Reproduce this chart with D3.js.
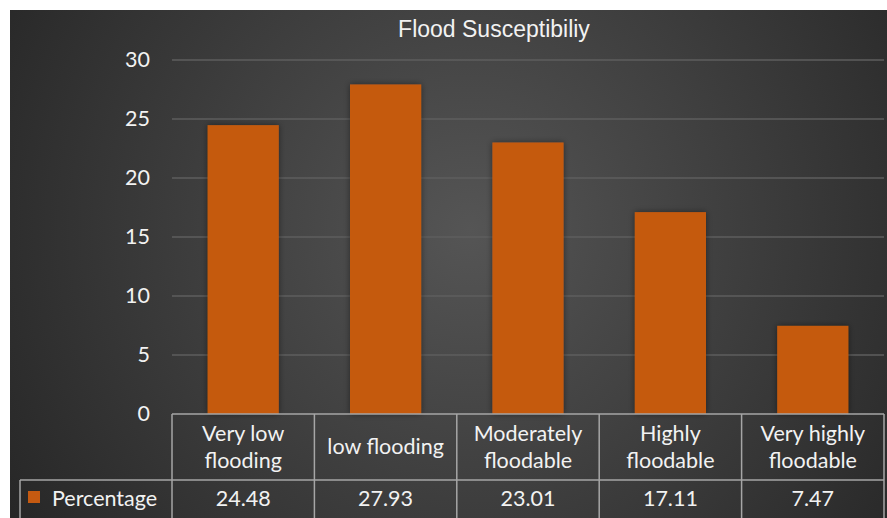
<!DOCTYPE html>
<html>
<head>
<meta charset="utf-8">
<script src="https://cdn.jsdelivr.net/npm/d3@7"></script>
<style>
  body { margin: 0; background: #fff; }
  svg { display: block; }
  text { font-family: Lato, "Open Sans", sans-serif; fill: #f2f2f2; }
</style>
</head>
<body>
<script>
var width  = 887;
var height = 518;

var categories = [['Very low', 'flooding'], ['low flooding'], ['Moderately', 'floodable'],
                  ['Highly', 'floodable'], ['Very highly', 'floodable']];
var values     = [24.48, 27.93, 23.01, 17.11, 7.47];
var valueLabels = ['24.48', '27.93', '23.01', '17.11', '7.47'];
var yTicks     = [0, 5, 10, 15, 20, 25, 30];
var seriesName = 'Percentage';
var title      = 'Flood Susceptibiliy';

var plotLeft = 172, plotRight = 884, plotTop = 60, plotBottom = 414;
var rowSplit = 480, tableBottom = 540, legendLeft = 20;
var fontSize = '21.5px';

var svg = d3.select('body').append('svg')
            .attr('width', width)
            .attr('height', height);

var defs = svg.append('defs');
var grad = defs.append('radialGradient')
               .attr('id', 'bg')
               .attr('gradientUnits', 'userSpaceOnUse')
               .attr('cx', 470).attr('cy', 230).attr('r', 540);
grad.append('stop').attr('offset', '0%').attr('stop-color', '#555555');
grad.append('stop').attr('offset', '100%').attr('stop-color', '#272727');

var shadow = defs.append('filter').attr('id', 'shadow')
                 .attr('x', '-20%').attr('y', '-20%').attr('width', '140%').attr('height', '140%');
shadow.append('feDropShadow')
      .attr('dx', 0).attr('dy', 0).attr('stdDeviation', 3)
      .attr('flood-color', '#000').attr('flood-opacity', 0.45);

svg.append('rect')
   .attr('x', 10).attr('y', 10)
   .attr('width', width - 10).attr('height', height - 10)
   .attr('fill', 'url(#bg)');

var x = d3.scaleBand()
          .domain(d3.range(values.length))
          .range([plotLeft, plotRight])
          .paddingInner(0.5)
          .paddingOuter(0.25);
var band = d3.scaleBand().domain(d3.range(values.length)).range([plotLeft, plotRight]);

var y = d3.scaleLinear().domain([0, 30]).range([plotBottom, plotTop]);

// gridlines
svg.append('g')
   .selectAll('line')
   .data(yTicks.filter(function(d){ return d > 0; }))
   .enter().append('line')
   .attr('x1', plotLeft).attr('x2', plotRight)
   .attr('y1', function(d){ return y(d); })
   .attr('y2', function(d){ return y(d); })
   .attr('stroke', '#5e5e5e')
   .attr('stroke-width', 1.5);

// y labels
var yAxis = svg.append('g')
   .attr('transform', 'translate(150,0)')
   .call(d3.axisLeft(y).tickValues(yTicks).tickSize(0).tickPadding(0));
yAxis.select('.domain').remove();
yAxis.selectAll('text')
     .attr('font-size', fontSize)
     .attr('fill', '#f2f2f2')
     .style('font-family', 'Lato, "Open Sans", sans-serif');

// bars
svg.append('g')
   .selectAll('rect')
   .data(values)
   .enter().append('rect')
   .attr('x', function(d, i){ return x(i); })
   .attr('y', function(d){ return y(d); })
   .attr('width', x.bandwidth())
   .attr('height', function(d){ return y(0) - y(d); })
   .attr('fill', '#c55a11')
   .attr('filter', 'url(#shadow)');

// data table
var lineColor = '#a6a6a6';
var table = svg.append('g')
               .attr('stroke', lineColor)
               .attr('stroke-width', 1.5)
               .attr('fill', 'none');
table.append('line').attr('x1', plotLeft).attr('x2', plotRight).attr('y1', plotBottom).attr('y2', plotBottom);
table.append('line').attr('x1', legendLeft).attr('x2', plotRight).attr('y1', rowSplit).attr('y2', rowSplit);
table.append('line').attr('x1', legendLeft).attr('x2', legendLeft).attr('y1', rowSplit).attr('y2', tableBottom);
table.selectAll('line.v')
     .data(d3.range(values.length + 1))
     .enter().append('line')
     .attr('class', 'v')
     .attr('x1', function(i){ return i < values.length ? band(i) : plotRight; })
     .attr('x2', function(i){ return i < values.length ? band(i) : plotRight; })
     .attr('y1', plotBottom).attr('y2', tableBottom);

// category labels
var cats = svg.append('g')
              .selectAll('text')
              .data(categories)
              .enter().append('text')
              .attr('text-anchor', 'middle')
              .attr('font-size', fontSize)
              .attr('x', function(d, i){ return band(i) + band.bandwidth() / 2; })
              .attr('y', function(d){ return d.length === 1 ? 454 : 441; });
cats.selectAll('tspan')
    .data(function(d){ return d; })
    .enter().append('tspan')
    .attr('x', function(){ return d3.select(this.parentNode).attr('x'); })
    .attr('dy', function(d, i){ return i === 0 ? 0 : 27; })
    .text(function(d){ return d; });

// value row
svg.append('g')
   .selectAll('text')
   .data(valueLabels)
   .enter().append('text')
   .attr('text-anchor', 'middle')
   .attr('font-size', fontSize)
   .attr('x', function(d, i){ return band(i) + band.bandwidth() / 2; })
   .attr('y', 506)
   .text(function(d){ return d; });

// legend key
svg.append('rect')
   .attr('x', 28).attr('y', 491)
   .attr('width', 12).attr('height', 12)
   .attr('fill', '#c55a11');
svg.append('text')
   .attr('x', 52).attr('y', 506)
   .attr('font-size', fontSize)
   .text(seriesName);

// title
svg.append('text')
   .attr('x', 494).attr('y', 37)
   .attr('text-anchor', 'middle')
   .attr('font-size', '23px')
   .style('font-family', '"Liberation Sans", Arial, sans-serif')
   .text(title);
</script>
</body>
</html>
